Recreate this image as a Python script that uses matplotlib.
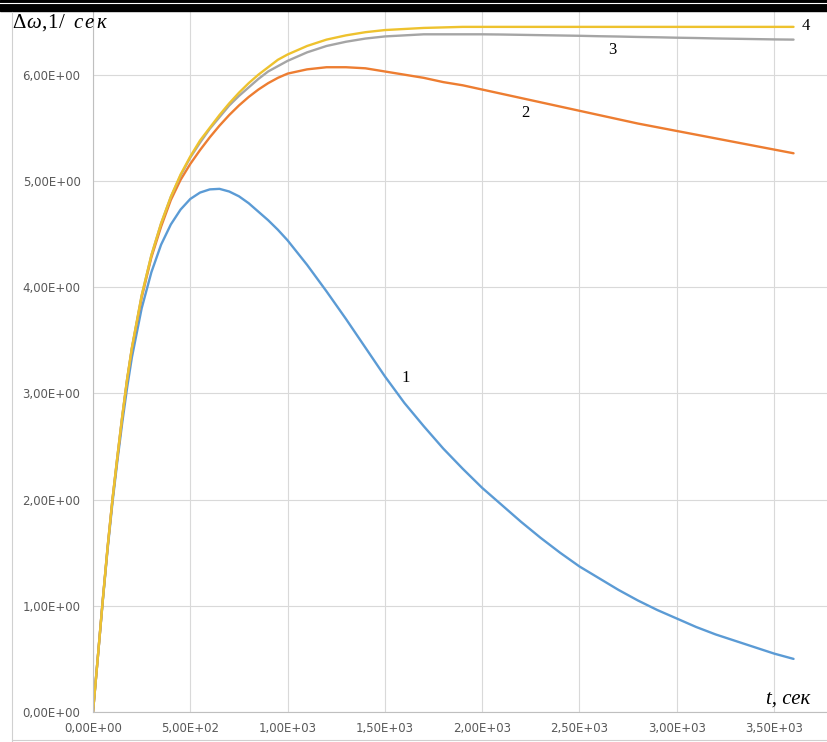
import matplotlib.pyplot as plt
from matplotlib.patches import Rectangle
from matplotlib.ticker import FuncFormatter

plt.rcParams['mathtext.fontset'] = 'custom'
plt.rcParams['mathtext.rm'] = 'Liberation Serif'
plt.rcParams['mathtext.it'] = 'Liberation Serif:italic'

# time points, sec
t = [0, 25, 50, 75, 100, 125, 150, 175, 200, 250, 300, 350, 400, 450, 500,
     550, 600, 650, 700, 750, 800, 850, 900, 950, 1000, 1100, 1200, 1300,
     1400, 1500, 1600, 1700, 1800, 1900, 2000, 2100, 2200, 2300, 2400, 2500,
     2600, 2700, 2800, 2900, 3000, 3100, 3200, 3300, 3400, 3500, 3600]

# curve 1 (blue)
w1 = [0, 0.52, 1.04, 1.53, 1.97, 2.36, 2.72, 3.05, 3.34, 3.80, 4.14, 4.40,
      4.59, 4.73, 4.83, 4.89, 4.92, 4.925, 4.90, 4.855, 4.79, 4.71, 4.63,
      4.54, 4.44, 4.21, 3.96, 3.70, 3.43, 3.16, 2.91, 2.69, 2.48, 2.29, 2.11,
      1.95, 1.79, 1.64, 1.50, 1.37, 1.26, 1.15, 1.05, 0.96, 0.88, 0.80, 0.73,
      0.67, 0.61, 0.55, 0.50]
# curve 2 (orange)
w2 = [0, 0.52, 1.05, 1.55, 2.0, 2.39, 2.77, 3.12, 3.42, 3.90, 4.28, 4.57,
      4.82, 5.01, 5.16, 5.29, 5.41, 5.52, 5.62, 5.71, 5.79, 5.86, 5.92, 5.97,
      6.01, 6.05, 6.07, 6.07, 6.06, 6.03, 6.00, 5.97, 5.93, 5.90, 5.86, 5.82,
      5.78, 5.74, 5.70, 5.66, 5.62, 5.58, 5.54, 5.505, 5.47, 5.435, 5.40,
      5.365, 5.33, 5.295, 5.26]
# curve 3 (gray)
w3 = [0, 0.52, 1.05, 1.55, 2.0, 2.40, 2.78, 3.13, 3.43, 3.92, 4.30, 4.60,
      4.85, 5.05, 5.22, 5.36, 5.49, 5.60, 5.71, 5.80, 5.88, 5.96, 6.03, 6.08,
      6.13, 6.21, 6.27, 6.31, 6.34, 6.36, 6.37, 6.38, 6.38, 6.38, 6.38, 6.378,
      6.375, 6.372, 6.369, 6.366, 6.362, 6.359, 6.355, 6.352, 6.348, 6.345,
      6.341, 6.338, 6.335, 6.332, 6.33]
# curve 4 (yellow)
w4 = [0, 0.52, 1.05, 1.55, 2.0, 2.40, 2.78, 3.13, 3.43, 3.92, 4.30, 4.60,
      4.85, 5.06, 5.23, 5.38, 5.50, 5.62, 5.73, 5.83, 5.92, 6.00, 6.07, 6.14,
      6.19, 6.27, 6.33, 6.37, 6.40, 6.42, 6.43, 6.44, 6.445, 6.45, 6.45, 6.45,
      6.45, 6.45, 6.45, 6.45, 6.45, 6.45, 6.45, 6.45, 6.45, 6.45, 6.45, 6.45,
      6.45, 6.45, 6.45]

curves = [(w1, '#5B9BD5'), (w2, '#ED7D31'), (w3, '#A5A5A5'), (w4, '#EEC22E')]
labels = ['1', '2', '3', '4']
label_pos = [(1608, 3.14), (2220, 5.64), (2667, 6.23), (3664, 6.46)]

fig = plt.figure(figsize=(8.27, 7.42), dpi=100)
ax = fig.add_axes([93 / 827, 30 / 742, 734 / 827, 700 / 742])

for w, c in curves:
    ax.plot(t, w, color=c, lw=1.7, solid_capstyle='round',
            solid_joinstyle='round')

for s, (x, y) in zip(labels, label_pos):
    ax.text(x, y, s, fontsize=12, family='Liberation Serif',
            ha='center', va='center', color='black')

ax.set_xlim(0, 3772)
ax.set_ylim(0, 6.59)
ax.set_xticks([0, 500, 1000, 1500, 2000, 2500, 3000, 3500])
ax.set_yticks([0, 1, 2, 3, 4, 5, 6])

fmt = FuncFormatter(lambda v, p: ('%.2E' % v).replace('.', ','))
ax.xaxis.set_major_formatter(fmt)
ax.yaxis.set_major_formatter(fmt)
ax.tick_params(length=0, labelsize=8.5, labelcolor='#595959')
ax.tick_params(axis='x', pad=7)
ax.tick_params(axis='y', pad=9)

ax.grid(True, color='#D9D9D9', lw=0.8)
ax.set_axisbelow(True)
for side in ['top', 'right']:
    ax.spines[side].set_visible(False)
for side in ['left', 'bottom']:
    ax.spines[side].set_color('#BFBFBF')
    ax.spines[side].set_linewidth(0.8)

# y axis title, pieces placed one by one (pixel x of each piece)
pieces = [(12, r'$\Delta$'), (26, r'$\omega$'), (41, ','), (47, '1'),
          (59, '/'), (73, r'$с\,е\,к$')]
for px, s in pieces:
    fig.text(px / 827, 1 - 23 / 742, s, fontsize=15,
             family='Liberation Serif', va='center')

fig.text(766 / 827, 1 - 699 / 742, 't, сек', fontsize=15, style='italic',
         family='Liberation Serif', va='center')

# outer frame of the pasted picture
fig.add_artist(plt.Line2D([12 / 827, 12 / 827], [0, 1 - 12 / 742],
                          color='#D0D0D0', lw=0.8))
fig.add_artist(plt.Line2D([12 / 827, 1], [2 / 742, 2 / 742],
                          color='#D0D0D0', lw=0.8))

# black bar at the top
fig.patches.append(Rectangle((0, 1 - 11 / 742), 1, 11 / 742,
                             transform=fig.transFigure, color='black'))
fig.add_artist(plt.Line2D([0, 1], [1 - 3 / 742, 1 - 3 / 742],
                          color='white', lw=0.8))

fig.savefig('out.png', dpi=100)
